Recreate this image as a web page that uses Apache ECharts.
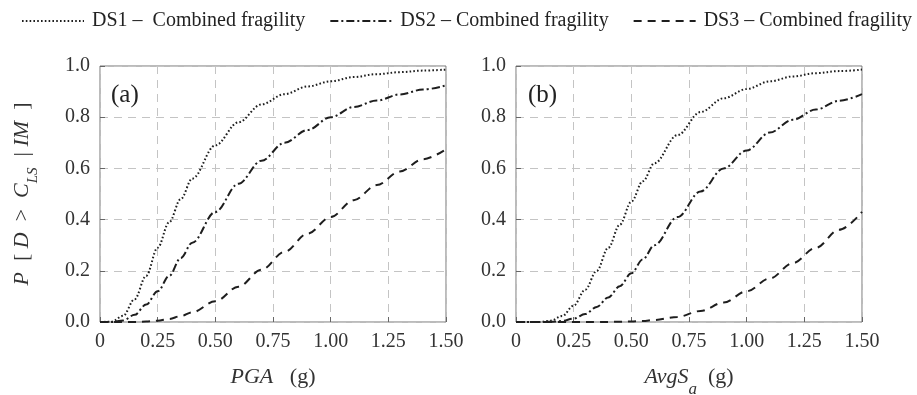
<!DOCTYPE html>
<html>
<head>
<meta charset="utf-8">
<script src="https://cdn.jsdelivr.net/npm/echarts@6/dist/echarts.min.js"></script>
<style>html,body{margin:0;padding:0;background:#fff}#c{width:917px;height:395px}</style>
</head>
<body>
<div id="c"></div>
<script>
// ---- data ----
const tickLabelsX = ['0', '0.25', '0.50', '0.75', '1.00', '1.25', '1.50'];
const seriesNames = ['DS1 \u2013  Combined fragility', 'DS2 \u2013 Combined fragility', 'DS3 \u2013 Combined fragility'];

// panel (a): PGA (g)
const pgaX = [0, 0.05, 0.1, 0.15, 0.2, 0.25, 0.3, 0.35, 0.4, 0.5, 0.6, 0.7, 0.8, 0.9, 1.0, 1.1, 1.2, 1.3, 1.4, 1.5];
const ds1a = [0, 0.001, 0.024, 0.089, 0.18, 0.29, 0.39, 0.48, 0.56, 0.69, 0.78, 0.85, 0.89, 0.92, 0.94, 0.957, 0.968, 0.976, 0.982, 0.986];
const ds2a = [0, 0, 0.006, 0.028, 0.068, 0.12, 0.18, 0.25, 0.31, 0.43, 0.54, 0.63, 0.70, 0.75, 0.80, 0.84, 0.865, 0.889, 0.908, 0.924];
const ds3a = [0, 0, 0, 0.0003, 0.0016, 0.005, 0.012, 0.023, 0.038, 0.081, 0.138, 0.204, 0.274, 0.345, 0.41, 0.476, 0.535, 0.588, 0.636, 0.675];

// panel (b): AvgSa (g)
const avgX = [0, 0.1, 0.15, 0.2, 0.25, 0.3, 0.35, 0.4, 0.45, 0.5, 0.55, 0.6, 0.7, 0.8, 0.9, 1.0, 1.1, 1.2, 1.3, 1.4, 1.5];
const ds1b = [0, 0.0003, 0.005, 0.023, 0.064, 0.126, 0.20, 0.29, 0.38, 0.47, 0.55, 0.62, 0.73, 0.82, 0.874, 0.91, 0.94, 0.959, 0.972, 0.98, 0.986];
const ds2b = [0, 0, 0.0007, 0.004, 0.013, 0.031, 0.059, 0.096, 0.14, 0.19, 0.245, 0.30, 0.41, 0.51, 0.60, 0.67, 0.74, 0.79, 0.83, 0.864, 0.89];
const ds3b = [0, 0, 0, 0, 0, 0, 0, 0.0003, 0.001, 0.002, 0.004, 0.008, 0.02, 0.043, 0.076, 0.12, 0.17, 0.23, 0.29, 0.36, 0.43];

// ---- chart ----
const FONT = '"Liberation Serif", "DejaVu Serif", serif';
const INK = '#1e1e1e';
const pair = (xs, ys) => xs.map((x, i) => [x, ys[i]]);
const styles = [
  { type: [1.6, 2.2], width: 2 },
  { type: [8, 3, 2, 3], width: 2 },
  { type: [8, 6], width: 2 }
];

function xAxisFor(gi, nameRich) {
  return {
    type: 'value', gridIndex: gi, min: 0, max: 1.5, interval: 0.25,
    axisLine: { show: false },
    axisTick: { show: true, inside: true, length: 5, lineStyle: { color: '#666' } },
    splitLine: { show: true, lineStyle: { color: '#c4c4c4', type: [8, 6], width: 1 } },
    axisLabel: {
      fontFamily: FONT, fontSize: 20, color: '#333', margin: 10,
      formatter: (v) => tickLabelsX[Math.round(v / 0.25)]
    },
    name: nameRich.text, nameLocation: 'middle', nameGap: 44,
    nameTextStyle: { fontFamily: FONT, fontSize: 22, color: '#333', rich: nameRich.rich }
  };
}
function yAxisFor(gi, withName) {
  const ax = {
    type: 'value', gridIndex: gi, min: 0, max: 1, interval: 0.2,
    axisLine: { show: false },
    axisTick: { show: true, inside: true, length: 5, lineStyle: { color: '#666' } },
    splitLine: { show: true, lineStyle: { color: '#c4c4c4', type: [8, 6], width: 1 } },
    axisLabel: {
      fontFamily: FONT, fontSize: 20, color: '#333', margin: 10,
      formatter: (v) => v.toFixed(1)
    }
  };
  if (withName) {
    ax.name = '{i|P}  [ {i|D}  >  {i|C}{s|LS}  | {i|IM}  ]';
    ax.nameLocation = 'middle';
    ax.nameGap = 67;
    ax.nameTextStyle = {
      fontFamily: FONT, fontSize: 22, color: '#333',
      rich: {
        i: { fontFamily: FONT, fontSize: 22, fontStyle: 'italic', color: '#333' },
        s: { fontFamily: FONT, fontSize: 15, fontStyle: 'italic', color: '#333', verticalAlign: 'bottom', padding: [0, 0, -8, 0] }
      }
    };
  }
  return ax;
}

const chart = echarts.init(document.getElementById('c'), null, { renderer: 'canvas' });
const mkSeries = (name, data, xi, k) => ({
  name, type: 'line', xAxisIndex: xi, yAxisIndex: xi, data,
  showSymbol: false, symbol: 'none', smooth: 0.35, smoothMonotone: 'x',
  lineStyle: { color: INK, type: styles[k].type, width: styles[k].width },
  itemStyle: { color: INK }, animation: false, z: 5
});

chart.setOption({
  animation: false,
  backgroundColor: '#fff',
  textStyle: { fontFamily: FONT },
  title: [
    { text: '(a)', left: 106, top: 78, textStyle: { fontFamily: FONT, fontSize: 25, fontWeight: 'normal', color: '#222' } },
    { text: '(b)', left: 523, top: 78, textStyle: { fontFamily: FONT, fontSize: 25, fontWeight: 'normal', color: '#222' } }
  ],
  legend: {
    left: 16, top: 6, width: 905, itemWidth: 62, itemHeight: 14, itemGap: 24,
    data: seriesNames,
    itemStyle: { opacity: 0 },
    textStyle: { fontFamily: FONT, fontSize: 20, color: '#222', padding: [0, 0, 0, 3] }
  },
  grid: [
    { left: 100, top: 66, width: 346, height: 256, show: true, borderColor: '#777', borderWidth: 1, outerBoundsMode: 'none', containLabel: false },
    { left: 516, top: 66, width: 346, height: 256, show: true, borderColor: '#777', borderWidth: 1, outerBoundsMode: 'none', containLabel: false }
  ],
  xAxis: [
    xAxisFor(0, { text: '{i|PGA}   (g)', rich: { i: { fontFamily: FONT, fontSize: 22, fontStyle: 'italic', color: '#333' } } }),
    xAxisFor(1, { text: '{i|AvgS}{s|a}  (g)', rich: {
      i: { fontFamily: FONT, fontSize: 22, fontStyle: 'italic', color: '#333' },
      s: { fontFamily: FONT, fontSize: 17, fontStyle: 'italic', color: '#333', verticalAlign: 'bottom', padding: [0, 0, -10, 0] }
    } })
  ],
  yAxis: [yAxisFor(0, true), yAxisFor(1, false)],
  series: [
    mkSeries(seriesNames[0], pair(pgaX, ds1a), 0, 0),
    mkSeries(seriesNames[1], pair(pgaX, ds2a), 0, 1),
    mkSeries(seriesNames[2], pair(pgaX, ds3a), 0, 2),
    mkSeries(seriesNames[0], pair(avgX, ds1b), 1, 0),
    mkSeries(seriesNames[1], pair(avgX, ds2b), 1, 1),
    mkSeries(seriesNames[2], pair(avgX, ds3b), 1, 2)
  ]
});
</script>
</body>
</html>
